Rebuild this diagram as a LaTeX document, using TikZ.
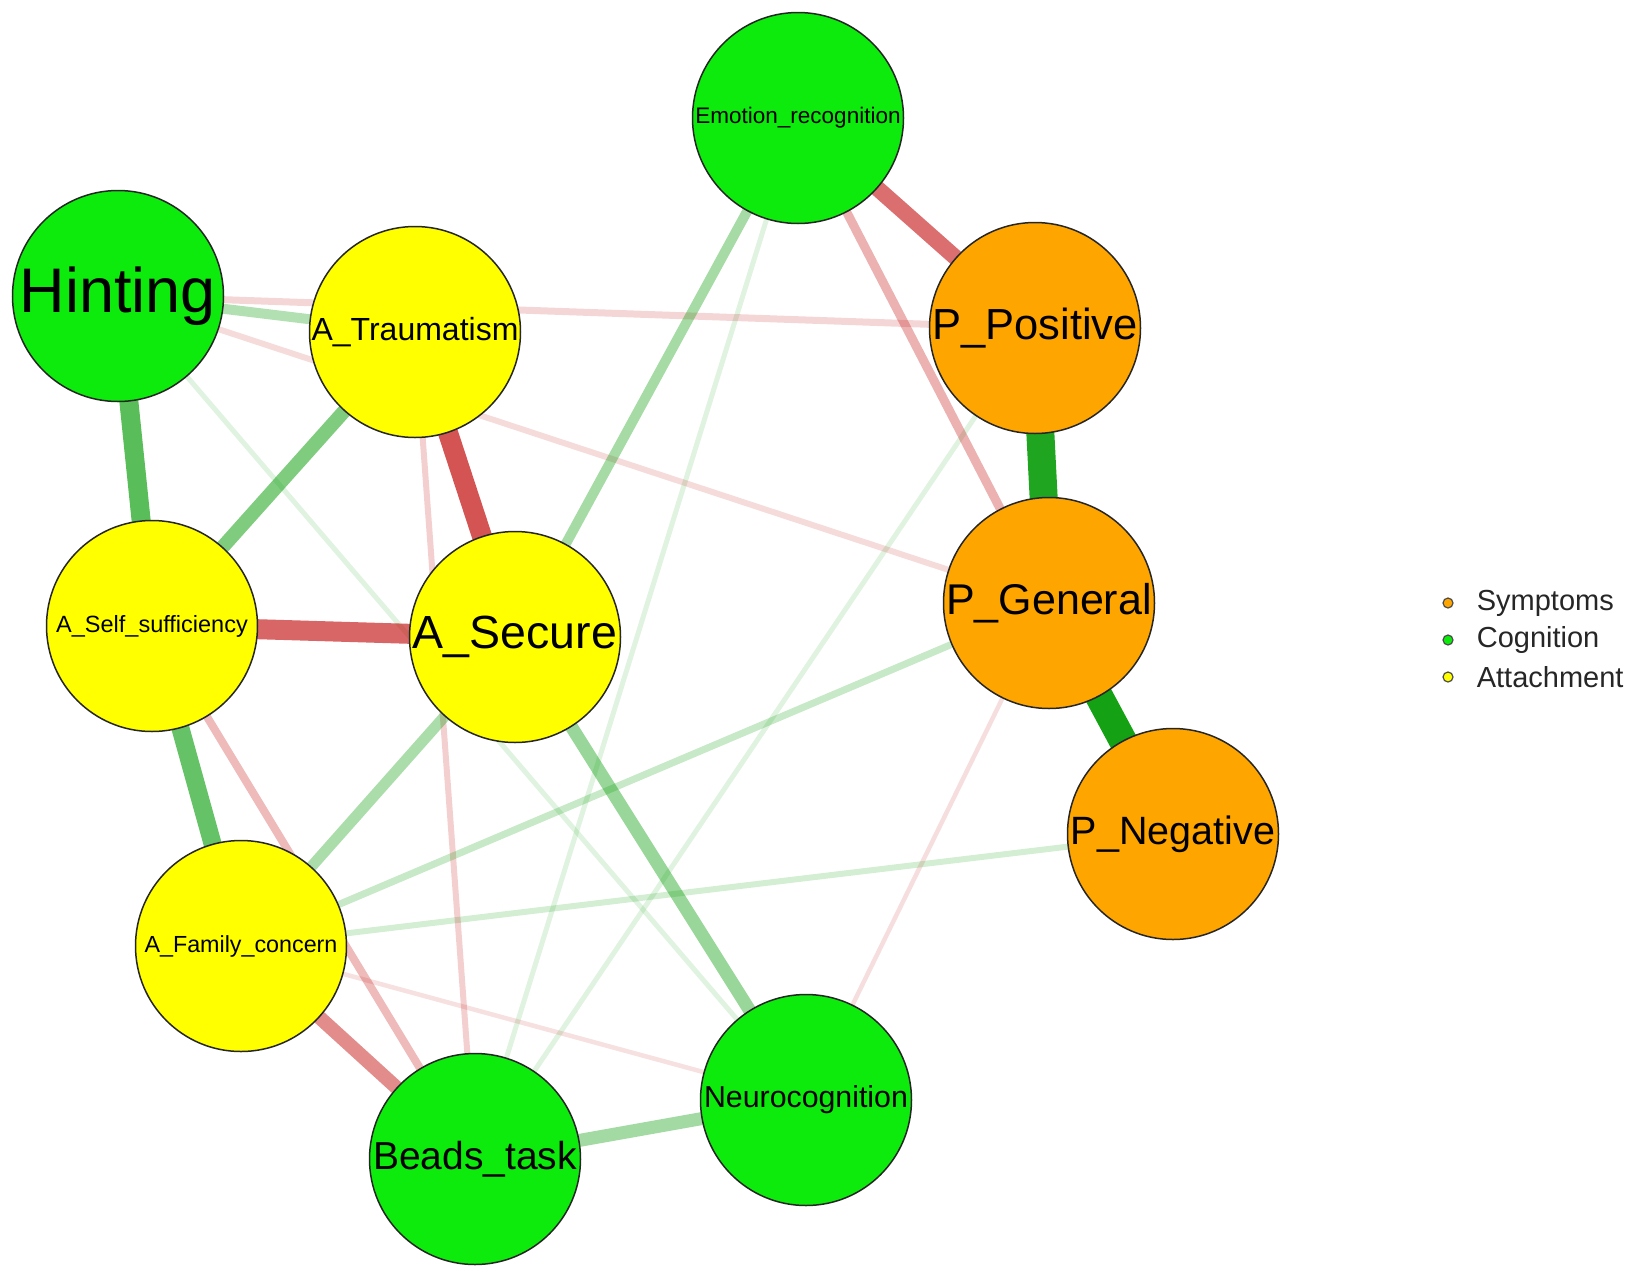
\documentclass[tikz,border=0pt]{standalone}
\usepackage{fontspec}
\setmainfont{Liberation Sans}
\usetikzlibrary{positioning}
\pgfdeclarelayer{background}
\pgfsetlayers{background,main}

\definecolor{symptom}{RGB}{255,165,0}
\definecolor{cognit}{RGB}{12,235,12}
\definecolor{attnode}{RGB}{255,255,0}
\definecolor{posgreen}{RGB}{0,153,0}
\definecolor{negred}{RGB}{191,0,0}

\tikzset{
  vertex/.style={circle, draw=black!85, line width=1.5pt, minimum size=211pt, inner sep=0pt},
  symp/.style={vertex, fill=symptom},
  cogn/.style={vertex, fill=cognit},
  attach/.style={vertex, fill=attnode},
  poslink/.style={draw=posgreen, draw opacity=#1},
  neglink/.style={draw=negred, draw opacity=#1},
  legdot/.style={circle, draw=black!70, line width=1.2pt, minimum size=10pt, inner sep=0pt},
  legtext/.style={text=black!85, font=\fontsize{29}{29}\selectfont, inner sep=0pt}
}

\begin{document}
\begin{tikzpicture}[x=1pt, y=-1pt]
        \useasboundingbox (0,0) rectangle (1639,1275);

        % nodes
        \node[cogn] (emo) at (798,118) {\fontsize{22.5}{22.5}\selectfont Emotion\_recognition};
        \node[cogn] (hint) at (118,296) {\fontsize{63}{63}\selectfont Hinting};
        \node[attach] (trauma) at (415,332) {\fontsize{32}{32}\selectfont A\_Traumatism};
        \node[symp] (ppos) at (1035,328) {\fontsize{43.5}{43.5}\selectfont P\_Positive};
        \node[attach] (self) at (152,626) {\fontsize{23.5}{23.5}\selectfont A\_Self\_sufficiency};
        \node[attach] (secure) at (515,637) {\fontsize{46.5}{46.5}\selectfont A\_Secure};
        \node[symp] (pgen) at (1049,603) {\fontsize{43}{43}\selectfont P\_General};
        \node[symp] (pneg) at (1173,834) {\fontsize{39.5}{39.5}\selectfont P\_Negative};
        \node[attach] (family) at (241,946) {\fontsize{23.3}{23.3}\selectfont A\_Family\_concern};
        \node[cogn] (neuro) at (806,1100) {\fontsize{30.3}{30.3}\selectfont Neurocognition};
        \node[cogn] (beads) at (475,1159) {\fontsize{39}{39}\selectfont Beads\_task};

        % edges, weak ones first
        \begin{pgfonlayer}{background}
        \draw[poslink=0.12, line width=5pt] (hint.center) -- (neuro.center);
        \draw[poslink=0.12, line width=5pt] (emo.center) -- (beads.center);
        \draw[poslink=0.12, line width=5pt] (beads.center) -- (ppos.center);
        \draw[neglink=0.12, line width=4.5pt] (family.center) -- (neuro.center);
        \draw[neglink=0.13, line width=4.5pt] (pgen.center) -- (neuro.center);
        \draw[neglink=0.14, line width=6pt] (hint.center) -- (pgen.center);
        \draw[neglink=0.16, line width=7pt] (hint.center) -- (ppos.center);
        \draw[poslink=0.17, line width=6pt] (family.center) -- (pneg.center);
        \draw[neglink=0.19, line width=6pt] (trauma.center) -- (beads.center);
        \draw[poslink=0.22, line width=7pt] (family.center) -- (pgen.center);
        \draw[neglink=0.27, line width=8pt] (self.center) -- (beads.center);
        \draw[neglink=0.3, line width=9pt] (emo.center) -- (pgen.center);
        \draw[poslink=0.3, line width=10pt] (hint.center) -- (trauma.center);
        \draw[poslink=0.33, line width=11pt] (secure.center) -- (family.center);
        \draw[poslink=0.35, line width=10pt] (emo.center) -- (secure.center);
        \draw[poslink=0.36, line width=13pt] (beads.center) -- (neuro.center);
        \draw[poslink=0.4, line width=13pt] (secure.center) -- (neuro.center);
        \draw[neglink=0.45, line width=14pt] (family.center) -- (beads.center);
        \draw[poslink=0.5, line width=14pt] (trauma.center) -- (self.center);
        \draw[neglink=0.57, line width=16pt] (emo.center) -- (ppos.center);
        \draw[poslink=0.6, line width=18pt] (self.center) -- (family.center);
        \draw[neglink=0.6, line width=20pt] (self.center) -- (secure.center);
        \draw[poslink=0.65, line width=19pt] (hint.center) -- (self.center);
        \draw[neglink=0.67, line width=20pt] (trauma.center) -- (secure.center);
        \draw[poslink=0.88, line width=28pt] (ppos.center) -- (pgen.center);
        \draw[poslink=0.92, line width=28pt] (pgen.center) -- (pneg.center);
        \end{pgfonlayer}

        % legend
        \node[legdot, fill=symptom] (lsymp) at (1448,603) {};
        \node[legdot, fill=cognit] (lcogn) at (1448,640) {};
        \node[legdot, fill=attnode] (latt) at (1448,677) {};
        \node[legtext, right=23pt of lsymp] {Symptoms};
        \node[legtext, right=23pt of lcogn] {Cognition};
        \node[legtext, right=23pt of latt] {Attachment};
\end{tikzpicture}
\end{document}
